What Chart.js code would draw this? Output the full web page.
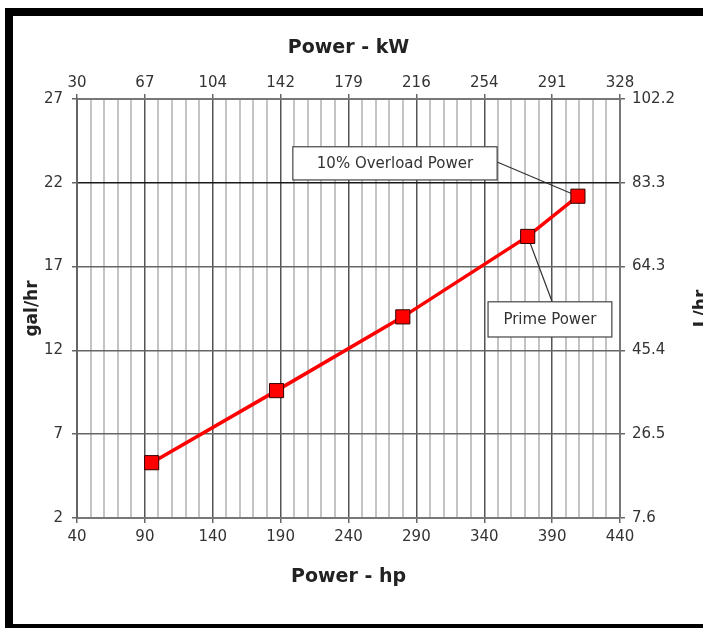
<!DOCTYPE html>
<html>
<head>
<meta charset="utf-8">
<title>Fuel consumption</title>
<script src="https://cdn.jsdelivr.net/npm/chart.js@4.4.1/dist/chart.umd.min.js"></script>
<style>
  html, body { margin: 0; padding: 0; background: #fff; }
  #wrap { width: 703px; height: 628px; }
</style>
</head>
<body>
<div id="wrap"><canvas id="fuelChart" width="703" height="628"></canvas></div>
<script>
// --- Data ---
const powerHp = [95, 187, 280, 372, 409];
const fuelGal = [5.3, 9.6, 14.0, 18.8, 21.2];
const kwLabels = ['30', '67', '104', '142', '179', '216', '254', '291', '328'];
const litreLabels = ['7.6', '26.5', '45.4', '64.3', '83.3', '102.2'];

const FONT = '"DejaVu Sans", Verdana, sans-serif';
const isMajorHp = v => (v - 40) % 50 === 0;

// callout boxes, in data units (hp / gal)
const callouts = [
  { text: '10% Overload Power', x0: 199, x1: 349.5, y0: 24.15, y1: 22.17, ax: 349.5, ay: 23.24, point: 4 },
  { text: 'Prime Power', x0: 342.8, x1: 434, y0: 14.9, y1: 12.8, ax: 390, ay: 14.9, point: 3 }
];

// white page + black frame, callouts, right axis title
const framePlugin = {
  id: 'frame',
  beforeDraw(chart) {
    const { ctx, width, height } = chart;
    ctx.save();
    ctx.fillStyle = '#fff';
    ctx.fillRect(0, 0, width, height);
    ctx.fillStyle = '#000';
    ctx.fillRect(5, 8, width - 5, 8);
    ctx.fillRect(5, 8, 8, height - 8);
    ctx.fillRect(5, height - 4, width - 5, 4);
    ctx.restore();
  },
  beforeDatasetsDraw(chart) {
    const { ctx, scales: { x, y } } = chart;
    const pts = chart.getDatasetMeta(0).data;
    ctx.save();
    ctx.strokeStyle = '#333';
    ctx.lineWidth = 1.2;
    callouts.forEach(c => {
      const p = pts[c.point];
      ctx.beginPath();
      ctx.moveTo(x.getPixelForValue(c.ax), y.getPixelForValue(c.ay));
      ctx.lineTo(p.x, p.y);
      ctx.stroke();
    });
    ctx.restore();
  },
  afterDatasetsDraw(chart) {
    const { ctx, scales: { x, y } } = chart;
    ctx.save();
    callouts.forEach(c => {
      const l = x.getPixelForValue(c.x0), r = x.getPixelForValue(c.x1);
      const t = y.getPixelForValue(c.y0), b = y.getPixelForValue(c.y1);
      ctx.fillStyle = '#fff';
      ctx.fillRect(l, t, r - l, b - t);
      ctx.strokeStyle = '#444';
      ctx.lineWidth = 1.2;
      ctx.strokeRect(l, t, r - l, b - t);
      ctx.fillStyle = '#333';
      ctx.font = '15px ' + FONT;
      ctx.textAlign = 'center';
      ctx.textBaseline = 'middle';
      ctx.fillText(c.text, (l + r) / 2, (t + b) / 2 + 1);
    });
    ctx.restore();
  },
  afterDraw(chart) {
    const { ctx, chartArea } = chart;
    ctx.save();
    ctx.translate(702, (chartArea.top + chartArea.bottom) / 2);
    ctx.rotate(-Math.PI / 2);
    ctx.fillStyle = '#222';
    ctx.font = 'bold 17px ' + FONT;
    ctx.textAlign = 'center';
    ctx.textBaseline = 'middle';
    ctx.fillText('L/hr', 0, 0);
    ctx.restore();
  }
};

const tickFont = { family: FONT, size: 15 };
const titleFont = { family: FONT, size: 19, weight: 'bold' };

new Chart(document.getElementById('fuelChart'), {
  type: 'line',
  data: {
    datasets: [{
      data: powerHp.map((hp, i) => ({ x: hp, y: fuelGal[i] })),
      borderColor: '#ff0000',
      borderWidth: 3.5,
      pointStyle: 'rect',
      pointRadius: 10,
      pointHoverRadius: 10,
      pointBackgroundColor: '#ff0000',
      pointBorderColor: '#330000',
      pointBorderWidth: 1,
      tension: 0
    }]
  },
  options: {
    responsive: false,
    animation: false,
    layout: { padding: 0 },
    plugins: { legend: { display: false }, tooltip: { enabled: false } },
    scales: {
      x: {
        type: 'linear', position: 'bottom', min: 40, max: 440,
        afterFit: s => { s.height = 110; },
        ticks: {
          stepSize: 10, autoSkip: false, maxRotation: 0, padding: 5,
          color: '#333', font: tickFont,
          callback: v => isMajorHp(v) ? String(v) : ''
        },
        grid: {
          color: c => isMajorHp(c.tick.value) ? '#555' : '#c4c4c4',
          lineWidth: c => isMajorHp(c.tick.value) ? 1.5 : 2,
          tickColor: c => isMajorHp(c.tick.value) ? '#666' : 'rgba(0,0,0,0)',
          tickLength: 5
        },
        border: { color: '#777', width: 2 },
        title: { display: true, text: 'Power - hp', color: '#222', font: titleFont, padding: { bottom: 40 } }
      },
      x2: {
        type: 'linear', position: 'top', min: 40, max: 440,
        afterFit: s => { s.height = 99; },
        ticks: {
          stepSize: 50, autoSkip: false, maxRotation: 0, padding: 2,
          color: '#333', font: tickFont,
          callback: v => kwLabels[(v - 40) / 50]
        },
        grid: { drawOnChartArea: false, tickColor: '#666', tickLength: 5, lineWidth: 1.5 },
        border: { color: '#777', width: 2 },
        title: { display: true, text: 'Power - kW', color: '#222', font: titleFont, padding: { top: 37 } }
      },
      y: {
        type: 'linear', position: 'left', min: 2, max: 27,
        afterFit: s => { s.width = 77; },
        ticks: { stepSize: 5, padding: 9, color: '#333', font: tickFont },
        grid: {
          color: c => c.tick.value === 22 ? '#1a1a1a' : '#666',
          lineWidth: 1.5,
          tickColor: '#666',
          tickLength: 5
        },
        border: { color: '#666', width: 2 },
        title: { display: true, text: 'gal/hr', color: '#222', font: { family: FONT, size: 17, weight: 'bold' }, padding: { top: 22 } }
      },
      y2: {
        type: 'linear', position: 'right', min: 2, max: 27,
        afterFit: s => { s.width = 83; },
        ticks: {
          stepSize: 5, padding: 7, color: '#333', font: tickFont,
          callback: v => litreLabels[(v - 2) / 5]
        },
        grid: { drawOnChartArea: false, tickColor: '#666', tickLength: 5, lineWidth: 1.5 },
        border: { color: '#777', width: 2 }
      }
    }
  },
  plugins: [framePlugin]
});
</script>
</body>
</html>
